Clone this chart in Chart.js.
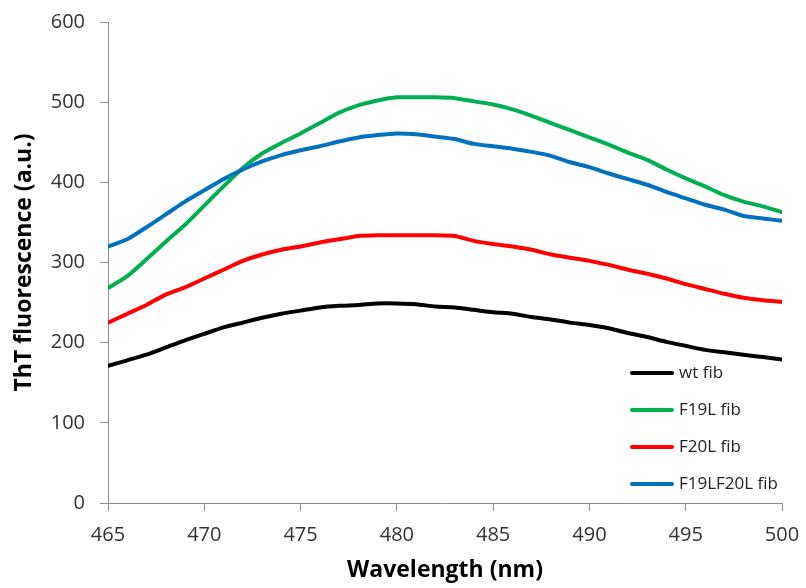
<!DOCTYPE html>
<html>
<head>
<meta charset="utf-8">
<script src="https://cdn.jsdelivr.net/npm/chart.js@4/dist/chart.umd.min.js"></script>
<style>
  html, body { margin: 0; padding: 0; background: #fff; }
  canvas { display: block; }
</style>
</head>
<body>
<canvas id="tht" width="806" height="588"></canvas>
<script>
// 波長 (nm)
var wavelength = [465, 466, 467, 468, 469, 470, 471, 472, 473, 474, 475, 476,
    477, 478, 479, 480, 481, 482, 483, 484, 485, 486, 487, 488,
    489, 490, 491, 492, 493, 494, 495, 496, 497, 498, 499, 500];

var wtFib = [171, 178, 185, 194, 203, 211, 219, 225, 231, 236, 240, 244,
    246, 247, 249, 249, 248, 245, 244, 241, 238, 236, 232, 229,
    225, 222, 218, 212, 207, 201, 196, 191, 188, 185, 182, 179];

var f19lFib = [268, 283, 304, 326, 347, 371, 395, 418, 436, 449, 461, 474,
    487, 496, 502, 506, 506, 506, 505, 501, 497, 491, 483, 474,
    465, 456, 447, 437, 428, 416, 405, 395, 384, 376, 370, 363];

var f20lFib = [225, 236, 247, 260, 269, 280, 291, 302, 310, 316, 320, 325,
    329, 333, 334, 334, 334, 334, 333, 327, 323, 320, 316, 310,
    306, 302, 297, 291, 286, 280, 273, 267, 261, 256, 253, 251];

var f19lf20lFib = [320, 329, 344, 360, 376, 390, 404, 416, 426, 434, 440, 445,
    451, 456, 459, 461, 460, 457, 454, 448, 445, 442, 438, 433,
    425, 419, 411, 404, 397, 388, 380, 372, 366, 358, 355, 352];

var seriesNames = ["wt fib", "F19L fib", "F20L fib", "F19LF20L fib"];
var seriesColors = ["#000000", "#00b050", "#ff0000", "#0070c0"];

function toPoints(values) {
    return values.map(function (v, i) {
        return { x: wavelength[i], y: v };
    });
}

// 凡例はグラフ内の右下に描く
var insideLegend = {
    id: "insideLegend",
    afterDraw: function (chart) {
        var ctx = chart.ctx;
        var area = chart.chartArea;
        var left = area.right - 150;
        var top = area.bottom - 130;
        ctx.save();
        ctx.font = "17px 'Open Sans'";
        ctx.textAlign = "left";
        ctx.textBaseline = "middle";
        chart.data.datasets.forEach(function (ds, i) {
            var y = top + i * 37;
            ctx.strokeStyle = ds.borderColor;
            ctx.lineWidth = 4;
            ctx.lineCap = "round";
            ctx.beginPath();
            ctx.moveTo(left, y);
            ctx.lineTo(left + 40, y);
            ctx.stroke();
            ctx.fillStyle = "#222";
            ctx.fillText(ds.label, left + 47, y);
        });
        ctx.restore();
    }
};

var axisGray = "#8c8c8c";
var tickFont = { family: "'Open Sans'", size: 20 };
var titleFont = { family: "'Open Sans'", size: 23, weight: "bold" };

new Chart(document.getElementById("tht").getContext("2d"), {
    type: "line",
    data: {
        datasets: [
            { label: seriesNames[0], data: toPoints(wtFib), borderColor: seriesColors[0], order: 3 },
            { label: seriesNames[1], data: toPoints(f19lFib), borderColor: seriesColors[1], order: 2 },
            { label: seriesNames[2], data: toPoints(f20lFib), borderColor: seriesColors[2], order: 1 },
            { label: seriesNames[3], data: toPoints(f19lf20lFib), borderColor: seriesColors[3], order: 0 }
        ]
    },
    options: {
        responsive: false,
        animation: false,
        layout: { padding: { top: 22, right: 24, left: 0, bottom: 0 } },
        elements: {
            line: { borderWidth: 4, tension: 0.2, borderJoinStyle: "round", borderCapStyle: "round", fill: false },
            point: { radius: 0 }
        },
        plugins: {
            legend: { display: false },
            tooltip: { enabled: false }
        },
        scales: {
            x: {
                type: "linear",
                min: 465,
                max: 500,
                ticks: { stepSize: 5, font: tickFont, color: "#333", padding: 12 },
                grid: { drawOnChartArea: false, tickLength: 8, color: axisGray },
                border: { color: axisGray },
                title: {
                    display: true,
                    text: "Wavelength (nm)",
                    color: "#000",
                    font: titleFont,
                    padding: { top: 0, bottom: 4 }
                },
                afterFit: function (scale) {
                    scale.height = 85;
                    scale.paddingLeft = 0;
                    scale.paddingRight = 0;
                }
            },
            y: {
                min: 0,
                max: 600,
                ticks: { stepSize: 100, font: tickFont, color: "#333", padding: 15 },
                grid: { drawOnChartArea: false, tickLength: 8, color: axisGray },
                border: { color: axisGray },
                title: {
                    display: true,
                    text: "ThT fluorescence (a.u.)",
                    color: "#000",
                    font: titleFont,
                    padding: { top: 11, bottom: 0 }
                },
                afterFit: function (scale) {
                    scale.width = 108;
                    scale.paddingTop = 0;
                    scale.paddingBottom = 0;
                }
            }
        }
    },
    plugins: [insideLegend]
});
</script>
</body>
</html>
